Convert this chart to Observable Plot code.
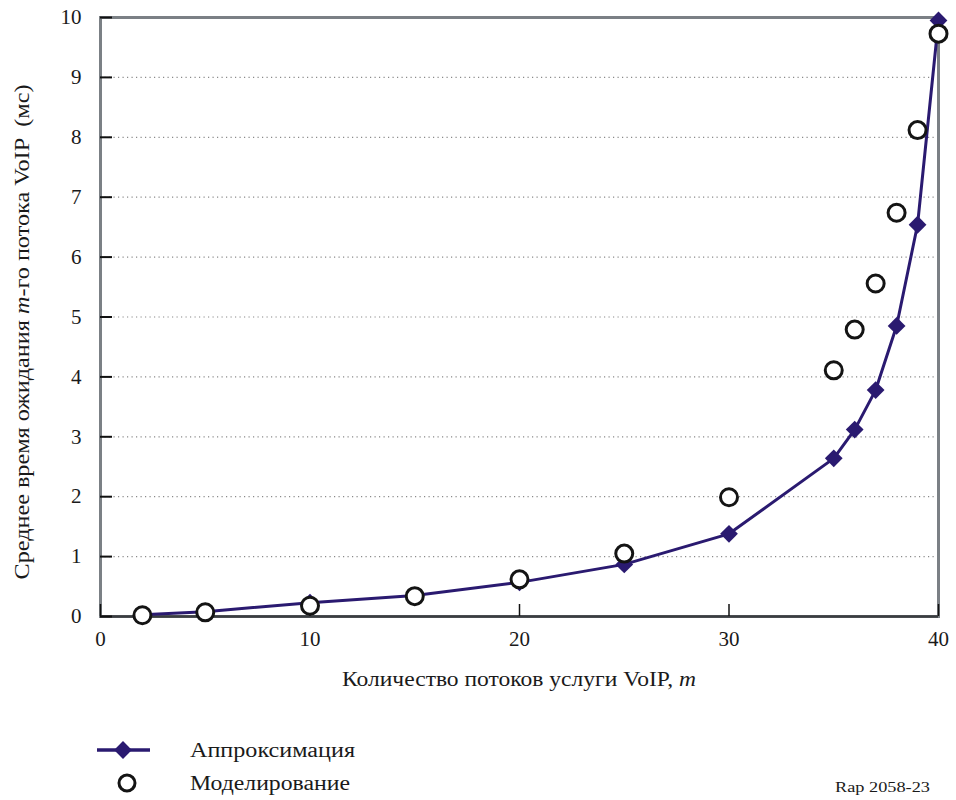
<!DOCTYPE html>
<html>
<head>
<meta charset="utf-8">
<script src="https://cdn.jsdelivr.net/npm/d3@7"></script>
<script src="https://cdn.jsdelivr.net/npm/@observablehq/plot@0.6"></script>
<style>
  html, body { margin: 0; padding: 0; background: #fff; }
  #wrap { width: 956px; height: 800px; font-family: "Liberation Serif", "Times New Roman", serif; }
  #wrap svg { display: block; }
</style>
</head>
<body>
<div id="wrap"></div>
<script>
// Number of VoIP flows m
const flows = [2, 5, 10, 15, 20, 25, 30, 35, 36, 37, 38, 39, 40];
// Mean waiting time of the m-th VoIP flow, ms: analytic approximation
const approximation = [0.03, 0.08, 0.23, 0.35, 0.57, 0.87, 1.38, 2.64, 3.12, 3.78, 4.85, 6.54, 9.95];
// Mean waiting time of the m-th VoIP flow, ms: simulation
const simulation = [0.02, 0.07, 0.18, 0.34, 0.62, 1.05, 1.99, 4.11, 4.79, 5.56, 6.74, 8.12, 9.73];

const xTicks = [0, 10, 20, 30, 40];
const yTicks = [0, 1, 2, 3, 4, 5, 6, 7, 8, 9, 10];
const gridTicks = yTicks.filter(v => v > 0 && v < 10);

const seriesNames = ["Аппроксимация", "Моделирование"];
const xTitle = ["Количество потоков услуги VoIP, ", "m"];
const yTitle = ["Среднее время ожидания ", "m", "-го потока VoIP  (мс)"];
const figureRef = "Rap 2058-23";

const approxData = flows.map((m, i) => ({m, t: approximation[i]}));
const simData = flows.map((m, i) => ({m, t: simulation[i]}));

const W = 956, H = 700;
const mL = 100, mR = 18, mT = 17, mB = 84;
const innerW = W - mL - mR, innerH = H - mT - mB;
const tickLen = 12;
const lineColor = "#2a1a70";
const markStroke = "#141414";
const textColor = "#1a1a1a";
const serif = "Liberation Serif, Times New Roman, serif";

const chart = Plot.plot({
  width: W,
  height: H,
  marginLeft: mL,
  marginRight: mR,
  marginTop: mT,
  marginBottom: mB,
  style: {fontFamily: serif, fontSize: "21px", color: textColor, background: "#fff", overflow: "visible"},
  x: {domain: [0, 40]},
  y: {domain: [0, 10]},
  marks: [
    Plot.ruleY(gridTicks, {stroke: "#8a8a8a", strokeWidth: 1.2, strokeDasharray: "1.2 3.3"}),
    Plot.frame({stroke: "#7b8085", strokeWidth: 3}),
    Plot.ruleY([0], {stroke: "#3a3d40", strokeWidth: 2.5}),
    // inward tick marks
    Plot.tickY(yTicks, {y: d => d, stroke: "#111", strokeWidth: 2, insetRight: innerW - tickLen}),
    Plot.tickX(xTicks, {x: d => d, stroke: "#111", strokeWidth: 1.5, insetTop: innerH - tickLen}),
    Plot.axisY(yTicks, {tickSize: 0, tickPadding: 19, tickFormat: "d", label: null, fontSize: 21}),
    Plot.axisX(xTicks, {tickSize: 0, tickPadding: 15, tickFormat: "d", label: null, fontSize: 21}),
    Plot.line(approxData, {x: "m", y: "t", stroke: lineColor, strokeWidth: 3}),
    Plot.dot(approxData, {x: "m", y: "t", symbol: "diamond2", r: 8, fill: lineColor, stroke: "none"}),
    Plot.dot(simData, {x: "m", y: "t", r: 8.5, fill: "#fff", stroke: markStroke, strokeWidth: 3})
  ]
});
document.getElementById("wrap").appendChild(chart);

// Axis titles, with the italic variable m
const svg = d3.select(chart);
const xt = svg.append("text")
  .attr("x", mL + innerW / 2)
  .attr("y", 686)
  .attr("text-anchor", "middle")
  .attr("font-size", 20)
  .attr("fill", textColor)
  .attr("textLength", 354)
  .attr("lengthAdjust", "spacingAndGlyphs");
xt.append("tspan").text(xTitle[0]);
xt.append("tspan").attr("font-style", "italic").text(xTitle[1]);

const yt = svg.append("text")
  .attr("transform", `translate(29, 332) rotate(-90)`)
  .attr("text-anchor", "middle")
  .attr("font-size", 20)
  .attr("fill", textColor)
  .attr("textLength", 495)
  .attr("lengthAdjust", "spacingAndGlyphs")
  .style("white-space", "pre");
yt.append("tspan").text(yTitle[0]);
yt.append("tspan").attr("font-style", "italic").text(yTitle[1]);
yt.append("tspan").text(yTitle[2]);

// Legend below the plot
const leg = d3.select("#wrap").append("svg")
  .attr("width", W).attr("height", 100)
  .style("font-family", serif);
leg.append("line").attr("x1", 97).attr("x2", 150).attr("y1", 50).attr("y2", 50)
  .attr("stroke", lineColor).attr("stroke-width", 3.5);
leg.append("path").attr("d", d3.symbol(d3.symbolDiamond2, Math.PI * 64)())
  .attr("transform", "translate(123,50)").attr("fill", lineColor);
leg.append("circle").attr("cx", 127).attr("cy", 83).attr("r", 8).attr("fill", "#fff")
  .attr("stroke", markStroke).attr("stroke-width", 3);
leg.selectAll("text.series").data(seriesNames).join("text")
  .attr("class", "series")
  .attr("x", 190)
  .attr("y", (d, i) => 57 + i * 33)
  .attr("font-size", 20)
  .attr("fill", textColor)
  .attr("textLength", (d, i) => i === 0 ? 165 : 160)
  .attr("lengthAdjust", "spacingAndGlyphs")
  .text(d => d);
leg.append("text")
  .attr("x", 930).attr("y", 92)
  .attr("text-anchor", "end")
  .attr("font-size", 15)
  .attr("fill", textColor)
  .attr("textLength", 95)
  .attr("lengthAdjust", "spacingAndGlyphs")
  .text(figureRef);
</script>
</body>
</html>
